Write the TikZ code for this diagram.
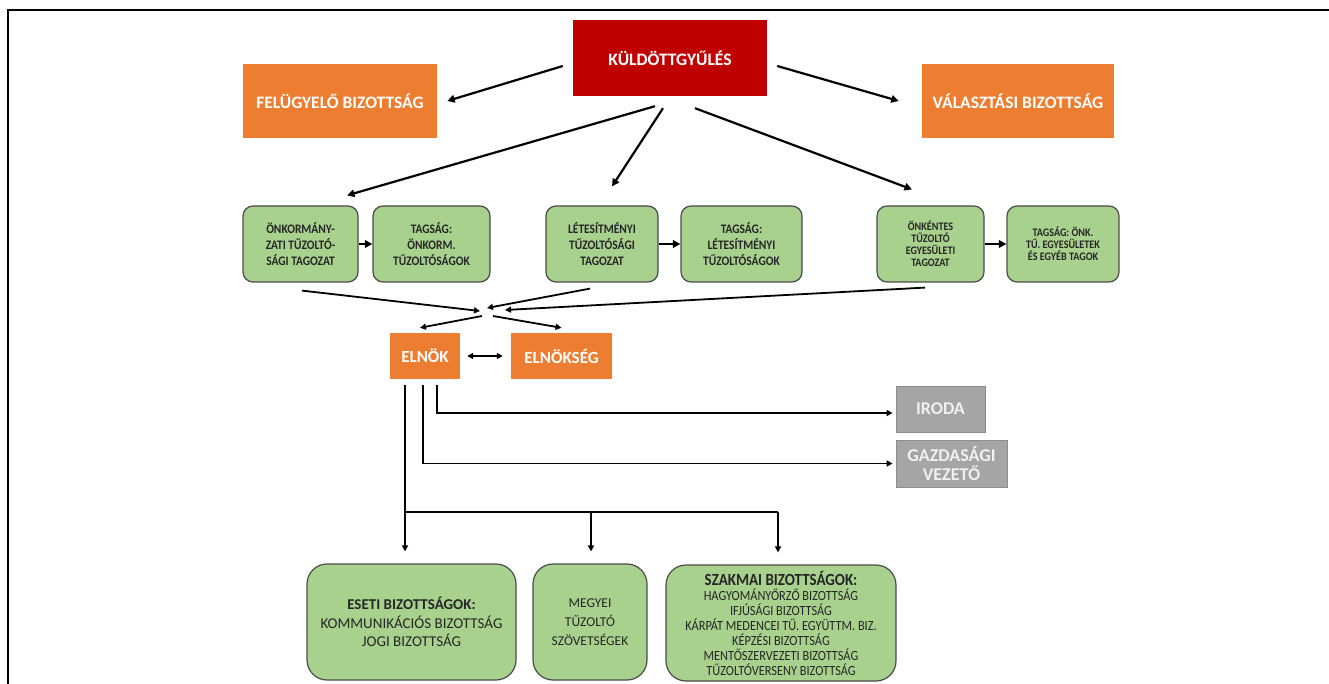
\documentclass[tikz,border=0pt]{standalone}
\usepackage{fontspec}
\setmainfont{Carlito}
\newfontfamily\narrowfont{Carlito}[FakeStretch=0.88]
\usetikzlibrary{arrows.meta}
\definecolor{kred}{HTML}{C00000}
\definecolor{korange}{HTML}{ED7D31}
\definecolor{kgreen}{HTML}{A9D18E}
\definecolor{kgrey}{HTML}{A5A5A5}
\definecolor{kedge}{HTML}{4A4A4A}
\begin{document}
\begin{tikzpicture}[x=1pt,y=-1pt,
  box/.style={inner sep=0pt, align=center, font=\bfseries},
  redbox/.style={box, fill=kred, text=white, font=\bfseries\fontsize{17.5}{20}\selectfont},
  orangebox/.style={box, fill=korange, text=white, font=\bfseries\fontsize{17.5}{20}\selectfont},
  greybox/.style={box, fill=kgrey, draw=kgrey!85!black, line width=0.8pt, text=white!94!black, font=\bfseries\fontsize{18}{18}\selectfont},
  greenbox/.style={box, fill=kgreen, draw=kedge, line width=1.2pt, rounded corners=10pt, text=black!85, font=\narrowfont\bfseries\fontsize{13}{16}\selectfont},
  smallgreen/.style={greenbox, font=\narrowfont\bfseries\fontsize{11.5}{12}\selectfont},
  bigbox/.style={greenbox, rounded corners=20pt, font=\fontsize{15}{18.5}\selectfont},
  conn/.style={line width=2.2pt, -{Triangle[length=7.5pt,width=7.5pt]}},
  thinconn/.style={line width=1.8pt, -{Triangle[length=6pt,width=6pt]}},
  link/.style={line width=1.8pt},
]
\useasboundingbox (0,0) rectangle (1329,684);
% frame
\draw[line width=2pt] (8,684) -- (8,10) -- (1329,10);

% assembly and its two committees
\node[redbox, minimum width=194pt, minimum height=76pt] (kg) at (670,58) {KÜLDÖTTGYŰLÉS};
\node[orangebox, minimum width=194pt, minimum height=74pt] (fb) at (340,101) {FELÜGYELŐ BIZOTTSÁG};
\node[orangebox, minimum width=192pt, minimum height=74pt] (vb) at (1018,101) {VÁLASZTÁSI BIZOTTSÁG};

% sections and their members
\node[greenbox, minimum width=115pt, minimum height=76pt] (g1) at (300.5,244) {ÖNKORMÁNY-\\ZATI TŰZOLTÓ-\\SÁGI TAGOZAT};
\node[greenbox, minimum width=117pt, minimum height=76pt] (g2) at (431.5,244) {TAGSÁG:\\ÖNKORM.\\TŰZOLTÓSÁGOK};
\node[greenbox, minimum width=112pt, minimum height=76pt] (g3) at (602,244) {LÉTESÍTMÉNYI\\TŰZOLTÓSÁGI\\TAGOZAT};
\node[greenbox, minimum width=121pt, minimum height=76pt] (g4) at (741.5,244) {TAGSÁG:\\LÉTESÍTMÉNYI\\TŰZOLTÓSÁGOK};
\node[smallgreen, minimum width=107pt, minimum height=76pt] (g5) at (930.5,244) {ÖNKÉNTES\\TŰZOLTÓ\\EGYESÜLETI\\TAGOZAT};
\node[smallgreen, minimum width=112pt, minimum height=76pt] (g6) at (1063,244) {TAGSÁG: ÖNK.\\TŰ. EGYESÜLETEK\\ÉS EGYÉB TAGOK};

% leadership
\node[orangebox, minimum width=70pt, minimum height=46pt, font=\bfseries\fontsize{17}{20}\selectfont] (elnok) at (425,356) {ELNÖK};
\node[orangebox, minimum width=101pt, minimum height=46pt, font=\bfseries\fontsize{17}{20}\selectfont] (elnokseg) at (561.5,356) {ELNÖKSÉG};

% office
\node[greybox, minimum width=89pt, minimum height=46pt] (iroda) at (940.5,409) {IRODA};
\node[greybox, minimum width=111pt, minimum height=47pt] (gazd) at (951.5,463.5) {GAZDASÁGI\\VEZETŐ};

% committees
\node[bigbox, minimum width=209pt, minimum height=116pt] (b1) at (411.5,622) {\textbf{ESETI BIZOTTSÁGOK:}\\KOMMUNIKÁCIÓS BIZOTTSÁG\\JOGI BIZOTTSÁG};
\node[bigbox, minimum width=114pt, minimum height=116pt, font=\fontsize{13.5}{19}\selectfont] (b2) at (590,622) {MEGYEI\\TŰZOLTÓ\\SZÖVETSÉGEK};
\node[bigbox, minimum width=230pt, minimum height=116pt, font=\narrowfont\fontsize{14}{15}\selectfont] (b3) at (781,623) {{\bfseries\fontsize{17}{15}\selectfont SZAKMAI BIZOTTSÁGOK:}\\HAGYOMÁNYŐRZŐ BIZOTTSÁG\\IFJÚSÁGI BIZOTTSÁG\\KÁRPÁT MEDENCEI TŰ. EGYÜTTM. BIZ.\\KÉPZÉSI BIZOTTSÁG\\MENTŐSZERVEZETI BIZOTTSÁG\\TŰZOLTÓVERSENY BIZOTTSÁG};

% assembly arrows
\draw[conn] ([shift={(-10pt,-8pt)}]kg.west) -- ([xshift=10pt]fb.east);
\draw[conn] ([shift={(10pt,-8pt)}]kg.east) -- ([xshift=-23pt]vb.west);
\draw[conn] ([shift={(-15pt,-10pt)}]kg.south) -- ([shift={(46.5pt,10pt)}]g1.north);
\draw[conn] ([shift={(-7pt,-12pt)}]kg.south) -- ([shift={(10pt,19pt)}]g3.north);
\draw[conn] ([shift={(25pt,-12pt)}]kg.south) -- ([shift={(-18.5pt,16pt)}]g5.north);

% section to members
\draw[conn] (g1) -- (g2);
\draw[conn] (g3) -- (g4);
\draw[conn] (g5) -- (g6);

% converging onto the leadership
\coordinate (inL) at (480,311);
\coordinate (inM) at (487,308);
\coordinate (inR) at (505,310);
\coordinate (outL) at (482,316);
\coordinate (outR) at (493,316);
\draw[thinconn] ([shift={(1.5pt,-8pt)}]g1.south) -- (inL);
\draw[thinconn] ([shift={(-12pt,-6pt)}]g3.south) -- (inM);
\draw[thinconn] ([shift={(-5.5pt,-5pt)}]g5.south) -- (inR);
\draw[thinconn] (outL) -- ([shift={(-5pt,5pt)}]elnok.north);
\draw[thinconn] (outR) -- ([yshift=5pt]elnokseg.north);
\draw[line width=1.8pt, {Triangle[length=6pt,width=6pt]}-{Triangle[length=6pt,width=6pt]}, shorten <=7pt, shorten >=8pt] (elnok) -- (elnokseg);

% office lines
\draw[thinconn] ([shift={(12pt,-6pt)}]elnok.south) |- ([shift={(-3pt,-4pt)}]iroda.west);
\draw[thinconn] ([shift={(-2pt,-6pt)}]elnok.south) |- ([xshift=-3pt]gazd.west);

% committee bus
\coordinate (busL) at (405,512);
\coordinate (busM) at (591,512);
\coordinate (busR) at (778,512);
\draw[link] ([shift={(-20pt,-6pt)}]elnok.south) -- (busL) -- (busR);
\draw[thinconn, shorten >=12pt] (busL) -- (busL |- b1.north);
\draw[thinconn, shorten >=12pt] (busM) -- (busM |- b2.north);
\draw[thinconn, shorten >=12pt] (busR) -- (busR |- b3.north);
\end{tikzpicture}
\end{document}
